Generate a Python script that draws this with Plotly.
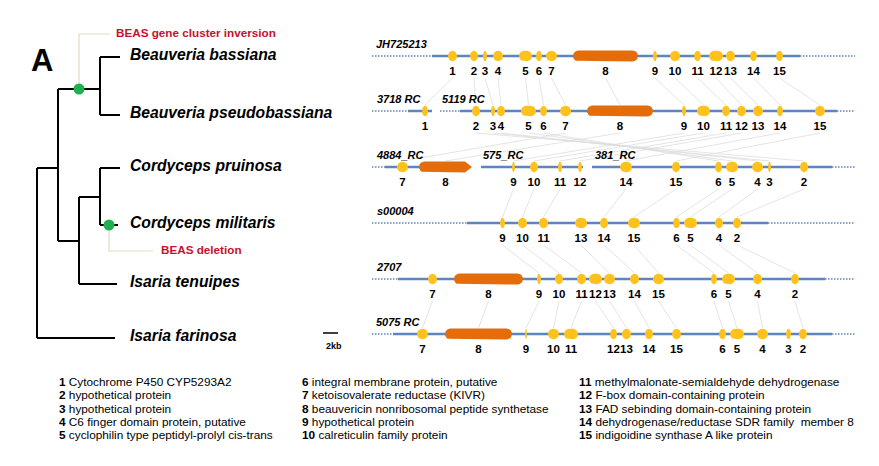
import plotly.graph_objects as go
import math

FONT = "Liberation Sans, Arial, sans-serif"

# ---------------- tree data ----------------
node_names = ["root", "N1", "N2", "N3", "N4",
              "Beauveria bassiana", "Beauveria pseudobassiana",
              "Cordyceps pruinosa", "Cordyceps militaris",
              "Isaria tenuipes", "Isaria farinosa"]
node_parent = [None, "root", "N1", "N1", "N3", "N2", "N2", "N4", "N4", "N3", "root"]
node_x = [37, 58, 100, 79, 100, 120, 120, 120, 118, 117, 115]
node_y = [None, 168, 89, 241, 197, 57, 115, 168, 225, 284, 338]
leaf_names = node_names[5:]

events = ["BEAS gene cluster inversion", "BEAS deletion"]
event_node = ["N2", "Cordyceps militaris"]
event_dot_x = [79, 109]

# ---------------- gene cluster data ----------------
track_labels = [["JH725213"], ["3718 RC", "5119 RC"], ["4884_RC", "575_RC", "381_RC"],
                ["s00004"], ["2707"], ["5075 RC"]]
track_label_x = [[376], [377, 442], [377, 483, 595], [377], [377], [376]]
solid_segs = [[(432, 800)], [(408, 432), (460, 837)], [(385, 470), (481, 583), (592, 832)],
              [(467, 768)], [(398, 825)], [(393, 832)]]
dotted_segs = [[(372, 432), (800, 855)], [(372, 408), (440, 460), (837, 855)],
               [(372, 385), (832, 855)], [(372, 467), (768, 855)],
               [(372, 398), (825, 855)], [(372, 393), (832, 855)]]

genes = [
    [1, 2, 3, 4, 5, 6, 7, 8, 9, 10, 11, 12, 13, 14, 15],
    [1, 2, 3, 4, 5, 6, 7, 8, 9, 10, 11, 12, 13, 14, 15],
    [7, 8, 9, 10, 11, 12, 14, 15, 6, 5, 4, 3, 2],
    [9, 10, 11, 13, 14, 15, 6, 5, 4, 2],
    [7, 8, 9, 10, 11, 12, 13, 14, 15, 6, 5, 4, 2],
    [7, 8, 9, 10, 11, 12, 13, 14, 15, 6, 5, 4, 3, 2],
]
gene_start = [
    [448, 470, 483, 493, 519, 536, 546, 573, 653, 670, 694, 709, 726, 750, 776],
    [422, 472, 491, 497, 521, 540, 560, 587, 682, 697, 722, 737, 753, 777, 815],
    [397, 419, 512, 530, 558, 578, 620, 672, 715, 726, 752, 768, 800],
    [500, 518, 539, 575, 600, 628, 673, 684, 715, 733],
    [428, 454, 537, 555, 577, 589, 604, 630, 653, 711, 722, 753, 791],
    [417, 445, 525, 548, 564, 610, 622, 645, 672, 719, 730, 757, 786, 799],
]
gene_end = [
    [457, 478, 487, 503, 532, 542, 557, 638, 657, 680, 701, 723, 735, 757, 783],
    [428, 480, 495, 505, 536, 547, 571, 653, 686, 710, 730, 746, 763, 783, 825],
    [408, 472, 515, 538, 562, 582, 632, 680, 722, 738, 763, 771, 808],
    [505, 527, 548, 587, 608, 640, 680, 697, 723, 741],
    [437, 523, 541, 563, 586, 602, 615, 639, 664, 717, 735, 762, 799],
    [428, 512, 527, 559, 578, 617, 631, 653, 681, 726, 744, 768, 791, 807],
]

legend_num = list(range(1, 16))
legend_text = [
    "Cytochrome P450 CYP5293A2", "hypothetical protein", "hypothetical protein",
    "C6 finger domain protein, putative", "cyclophilin type peptidyl-prolyl cis-trans",
    "integral membrane protein, putative", "ketoisovalerate reductase (KIVR)",
    "beauvericin nonribosomal peptide synthetase", "hypothetical protein",
    "calreticulin family protein", "methylmalonate-semialdehyde dehydrogenase",
    "F-box domain-containing protein", "FAD sebinding domain-containing protein",
    "dehydrogenase/reductase SDR family  member 8", "indigoidine synthase A like protein",
]

# ---------------- layout constants ----------------
TRACK_Y = [56, 111, 167, 223, 279, 334]
LINE_BLUE = "#5B86BE"
YELLOW = "#FFC21A"
ORANGE = "#E46C0A"
GREEN = "#20B050"
RED = "#C8102E"
GREY = "#DDDDDD"
CALLOUT = "#E2DCC4"
PAGE_OFFSET = 8  # default body margin of the page

fig = go.Figure()

def add_line(xs, ys, color, width, dash="solid"):
    fig.add_trace(go.Scatter(x=xs, y=ys, mode="lines", line=dict(color=color, width=width, dash=dash),
                             hoverinfo="skip", showlegend=False))

# ----- tree -----
pos = {n: (x, y) for n, x, y in zip(node_names, node_x, node_y)}
children = {}
for n, p in zip(node_names, node_parent):
    if p is not None:
        children.setdefault(p, []).append(n)
tx, ty = [], []
for n, p in zip(node_names, node_parent):
    if p is None:
        continue
    tx += [pos[p][0], pos[n][0], None]
    ty += [pos[n][1], pos[n][1], None]
for p, ch in children.items():
    ys = [pos[c][1] for c in ch]
    tx += [pos[p][0], pos[p][0], None]
    ty += [min(ys), max(ys), None]
add_line(tx, ty, "black", 2)

# callouts
add_line([event_dot_x[0], event_dot_x[0], 110], [pos[event_node[0]][1], 34, 34], CALLOUT, 1.2)
add_line([event_dot_x[1], event_dot_x[1], 153], [pos[event_node[1]][1], 251, 251], CALLOUT, 1.2)
fig.add_trace(go.Scatter(x=event_dot_x, y=[pos[n][1] for n in event_node], mode="markers",
                         marker=dict(color=GREEN, size=11, line=dict(width=0)),
                         hoverinfo="skip", showlegend=False))
fig.add_trace(go.Scatter(x=[116, 161], y=[34, 251], mode="text", text=[f"<b>{e}</b>" for e in events],
                         textposition="middle right", textfont=dict(family=FONT, size=11.7, color=RED),
                         hoverinfo="skip", showlegend=False))
fig.add_trace(go.Scatter(x=[130] * len(leaf_names), y=[pos[n][1] - 1 for n in leaf_names], mode="text",
                         text=[f"<b><i>{n}</i></b>" for n in leaf_names],
                         textposition="middle right", textfont=dict(family=FONT, size=15.7, color="black"),
                         hoverinfo="skip", showlegend=False))
fig.add_annotation(x=42, y=60, xref="x", yref="y", text="<b>A</b>", showarrow=False,
                   font=dict(family=FONT, size=31, color="black"))
# scale bar
add_line([323, 338], [333, 333], "black", 1.5)
fig.add_annotation(x=334, y=346, xref="x", yref="y", text="<b>2kb</b>", showarrow=False,
                   font=dict(family=FONT, size=9, color="black"))

# ----- connectors between tracks -----
cx, cy = [], []
for i in range(len(genes) - 1):
    c_a = {g: (s + e) / 2 for g, s, e in zip(genes[i], gene_start[i], gene_end[i])}
    c_b = {g: (s + e) / 2 for g, s, e in zip(genes[i + 1], gene_start[i + 1], gene_end[i + 1])}
    for g in genes[i]:
        if g in c_b:
            cx += [c_a[g], c_b[g], None]
            cy += [TRACK_Y[i] + 22, TRACK_Y[i + 1] - 6, None]
add_line(cx, cy, GREY, 0.8)

# ----- tracks -----
def gene_poly(x0, x1, yc, h, pointed=False):
    ry = h / 2
    rx = min(ry, (x1 - x0) / 2)
    xs, ys = [], []
    if pointed:
        xs += [x1 - 7, x1, x1 - 7]
        ys += [yc - ry, yc, yc + ry]
    else:
        for k in range(13):
            a = -math.pi / 2 + math.pi * k / 12
            xs.append(x1 - rx + rx * math.cos(a))
            ys.append(yc + ry * math.sin(a))
    for k in range(13):
        a = math.pi / 2 + math.pi * k / 12
        xs.append(x0 + rx + rx * math.cos(a))
        ys.append(yc + ry * math.sin(a))
    return xs, ys

for i, y in enumerate(TRACK_Y):
    dx, dy = [], []
    for a, b in dotted_segs[i]:
        dx += [a, b, None]
        dy += [y, y, None]
    add_line(dx, dy, LINE_BLUE, 1.6, "1.5px,1.5px")
    sx, sy = [], []
    for a, b in solid_segs[i]:
        sx += [a, b, None]
        sy += [y, y, None]
    add_line(sx, sy, LINE_BLUE, 2.5)
    yxs, yys, oxs, oys = [], [], [], []
    for g, s, e in zip(genes[i], gene_start[i], gene_end[i]):
        xs, ys = gene_poly(s, e, y, 10.5 if g != 8 else 11, pointed=(g == 8 and i == 2))
        if g == 8:
            oxs += xs + [xs[0], None]
            oys += ys + [ys[0], None]
        else:
            yxs += xs + [xs[0], None]
            yys += ys + [ys[0], None]
    for X, Y, col in [(yxs, yys, YELLOW), (oxs, oys, ORANGE)]:
        fig.add_trace(go.Scatter(x=X, y=Y, mode="lines", fill="toself", fillcolor=col,
                                 line=dict(width=0, color=col), hoverinfo="skip", showlegend=False))
    fig.add_trace(go.Scatter(x=[(s + e) / 2 for s, e in zip(gene_start[i], gene_end[i])],
                             y=[y + 16] * len(genes[i]), mode="text",
                             text=[f"<b>{g}</b>" for g in genes[i]], textposition="middle center",
                             textfont=dict(family=FONT, size=11.5, color="black"),
                             hoverinfo="skip", showlegend=False))
    fig.add_trace(go.Scatter(x=track_label_x[i], y=[y - 11] * len(track_labels[i]), mode="text",
                             text=[f"<b><i>{t}</i></b>" for t in track_labels[i]],
                             textposition="middle right", textfont=dict(family=FONT, size=11, color="black"),
                             hoverinfo="skip", showlegend=False))

# ----- gene legend -----
col_x = [57, 300, 577]
for k, (n, t) in enumerate(zip(legend_num, legend_text)):
    col, row = divmod(k, 5)
    fig.add_annotation(x=col_x[col], y=382 + row * 13.3, xref="x", yref="y", xanchor="left",
                       text=f"<b>{n}</b> {t}", showarrow=False,
                       font=dict(family=FONT, size=11.8, color="black"))

fig.update_layout(
    width=879, height=466, margin=dict(l=0, r=0, t=0, b=0),
    paper_bgcolor="white", plot_bgcolor="white", showlegend=False,
    xaxis=dict(range=[PAGE_OFFSET, 879 + PAGE_OFFSET], visible=False, fixedrange=True),
    yaxis=dict(range=[466 + PAGE_OFFSET, PAGE_OFFSET], visible=False, fixedrange=True),
)
fig.write_html("out.html")
